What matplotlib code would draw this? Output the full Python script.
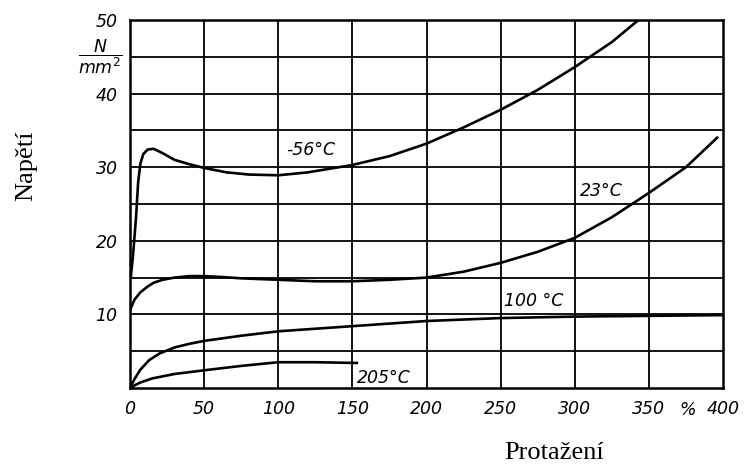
import matplotlib
matplotlib.use("Agg")
import matplotlib.pyplot as plt

# curves (x = elongation %, y = stress N/mm2)
x_m56 = [0.5, 2, 4, 5.5, 7, 9, 12, 16, 22, 30, 40, 50, 65, 80, 100, 120, 150, 175, 200, 225, 250, 275, 300, 325, 343]
y_m56 = [15, 18, 23, 28, 30.5, 31.8, 32.4, 32.5, 31.9, 31.0, 30.4, 29.9, 29.3, 29.0, 28.9, 29.3, 30.3, 31.5, 33.2, 35.4, 37.8, 40.5, 43.6, 47.0, 50]

x_23 = [0, 3, 7, 12, 16, 22, 30, 40, 50, 60, 75, 100, 125, 150, 175, 200, 225, 250, 275, 300, 325, 350, 375, 396]
y_23 = [10.6, 12.0, 13.0, 13.8, 14.3, 14.7, 15.0, 15.2, 15.2, 15.1, 14.9, 14.7, 14.5, 14.5, 14.7, 15.0, 15.8, 17.0, 18.5, 20.4, 23.2, 26.5, 30.0, 34.0]

x_100 = [0, 3, 7, 13, 20, 30, 40, 50, 75, 100, 150, 200, 250, 300, 350, 400]
y_100 = [0, 1.2, 2.5, 3.8, 4.7, 5.5, 6.0, 6.4, 7.1, 7.7, 8.4, 9.1, 9.5, 9.7, 9.8, 9.9]

x_205 = [0, 3, 7, 15, 30, 50, 75, 100, 125, 153]
y_205 = [0, 0.35, 0.75, 1.3, 1.9, 2.4, 3.0, 3.5, 3.5, 3.4]

xticks = [0, 50, 100, 150, 200, 250, 300, 350, 400]
yticks = [10, 20, 30, 40, 50]

plt.rcParams["mathtext.fontset"] = "dejavusans"

fig = plt.figure(figsize=(7.52, 4.70), dpi=100)
ax = fig.add_axes([0.1729, 0.1745, 0.7886, 0.783])

for v in range(5, 50, 5):
    ax.axhline(v, color="black", lw=1.3, zorder=1)
for v in xticks[1:-1]:
    ax.axvline(v, color="black", lw=1.3, zorder=1)

for xs, ys in [(x_m56, y_m56), (x_23, y_23), (x_100, y_100), (x_205, y_205)]:
    ax.plot(xs, ys, color="black", lw=1.9, zorder=3)

ax.set_xlim(0, 400)
ax.set_ylim(0, 50)
for s in ax.spines.values():
    s.set_linewidth(1.8)

lab = dict(fontsize=12.5, style="italic", family="DejaVu Sans")
ax.set_xticks(xticks)
ax.set_xticklabels([str(t) for t in xticks], **lab)
ax.set_yticks(yticks)
ax.set_yticklabels([str(t) for t in yticks], **lab)
ax.tick_params(length=0, pad=9)

ax.text(376, -3.0, "%", ha="center", va="center", clip_on=False, **lab)
ax.text(-20, 45.0, r"$\dfrac{N}{mm^2}$", ha="center", va="center", fontsize=12.5, clip_on=False)

ax.text(122, 32.3, "-56°C", ha="center", va="center", **lab)
ax.text(318, 26.8, "23°C", ha="center", va="center", **lab)
ax.text(272, 11.8, "100 °C", ha="center", va="center", **lab)
ax.text(171, 1.4, "205°C", ha="center", va="center", **lab)

fig.text(26 / 752, 1 - 166 / 470, "Napětí", rotation=90, ha="center", va="center",
         fontsize=19, family="Liberation Serif")
fig.text(554 / 752, 1 - 453 / 470, "Protažení", ha="center", va="center",
         fontsize=19, family="Liberation Serif")

fig.savefig("out.png", dpi=100)
